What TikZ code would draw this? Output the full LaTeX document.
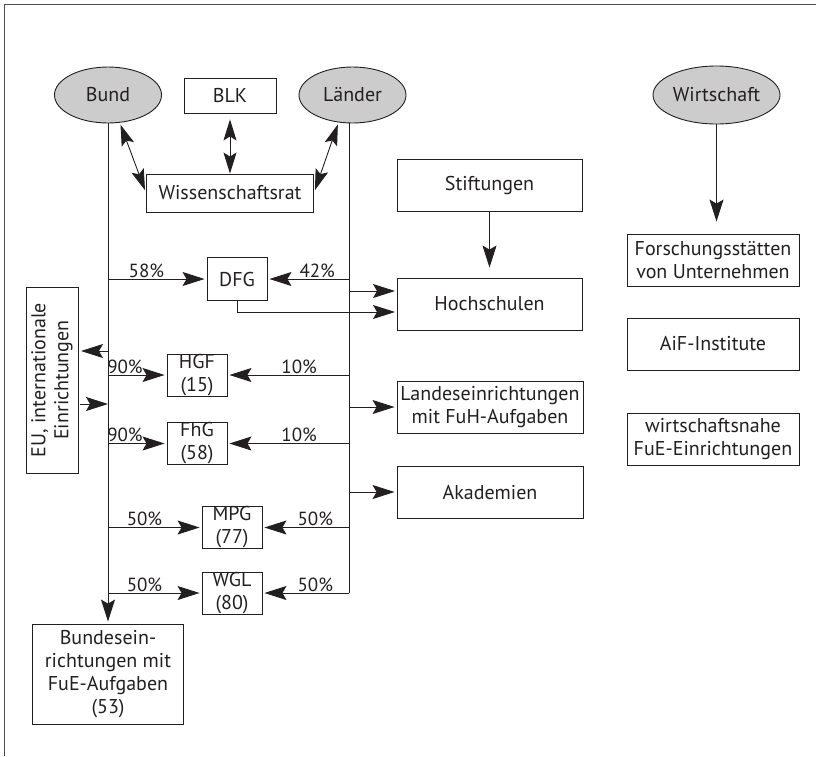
\documentclass[tikz,border=0pt]{standalone}
\usepackage{fontspec}
\setmainfont{PT Sans}
\usetikzlibrary{shapes.geometric,arrows.meta,calc}
\definecolor{ellgray}{RGB}{204,204,204}
\definecolor{linecol}{RGB}{35,31,32}
\begin{document}
\begin{tikzpicture}[x=1pt,y=-1pt,
  every node/.style={font=\fontsize{20}{23}\selectfont, text=linecol},
  box/.style={draw=linecol, line width=0.9pt, rectangle, inner sep=0pt, align=center},
  ell/.style={draw=linecol, line width=0.9pt, ellipse, fill=ellgray, inner sep=0pt},
  conn/.style={draw=linecol, line width=0.9pt},
  arr/.style={conn, -{Stealth[length=22pt,width=14pt,inset=4pt]}, shorten >=2pt},
  dbl/.style={conn, {Stealth[length=21pt,width=13pt,inset=4pt]}-{Stealth[length=21pt,width=13pt,inset=4pt]}},
  pct/.style={above, inner sep=1pt, font=\fontsize{19}{22}\selectfont},
  frame/.style={draw=black!70, line width=1.2pt}]
\useasboundingbox (0,0) rectangle (816,756);
\draw[frame] (816,4.5) -- (4.5,4.5) -- (4.5,756);

% top row
\node[ell, minimum width=107pt, minimum height=56pt] (bund) at (108,95) {Bund};
\node[box, minimum width=92pt, minimum height=35pt] (blk) at (230,95.5) {BLK};
\node[ell, minimum width=107pt, minimum height=56pt] (laender) at (352.5,95) {Länder};
\node[ell, minimum width=127pt, minimum height=58pt] (wirt) at (716.5,95) {Wirtschaft};
\node[box, minimum width=167pt, minimum height=38pt] (wr) at (230,193) {Wissenschaftsrat};

% right column boxes
\node[box, minimum width=185pt, minimum height=52pt] (stift) at (489.5,185) {Stiftungen};
\node[box, minimum width=185pt, minimum height=52pt] (hoch) at (489.5,304) {Hochschulen};
\node[box, minimum width=186pt, minimum height=52pt] (landes) at (490,407) {Landeseinrichtungen\\mit FuH-Aufgaben};
\node[box, minimum width=186pt, minimum height=52pt] (akad) at (490,492) {Akademien};
\node[box, minimum width=172pt, minimum height=52pt] (forsch) at (713,260) {Forschungsstätten\\von Unternehmen};
\node[box, minimum width=172pt, minimum height=52pt] (aif) at (713,344) {AiF-Institute};
\node[box, minimum width=172pt, minimum height=52pt] (wnahe) at (713,439) {wirtschaftsnahe\\FuE-Einrichtungen};

% middle boxes
\node[box, minimum width=60pt, minimum height=43pt] (dfg) at (237,279) {DFG};
\node[box, minimum width=60pt, minimum height=42pt] (hgf) at (197,375) {HGF\\(15)};
\node[box, minimum width=60pt, minimum height=42pt] (fhg) at (197,443.5) {FhG\\(58)};
\node[box, minimum width=60pt, minimum height=42pt] (mpg) at (232,527.5) {MPG\\(77)};
\node[box, minimum width=60pt, minimum height=42pt] (wgl) at (232,593) {WGL\\(80)};

% left boxes
\node[box, rotate=90, minimum width=186pt, minimum height=52pt] (eu) at (52,380) {EU, internationale\\Einrichtungen};
\node[box, minimum width=151pt, minimum height=100pt] (bundes) at (108,674) {Bundesein-\\richtungen mit\\FuE-Aufgaben\\(53)};

% helper coordinates
\coordinate (lbot) at (349,593);
\coordinate (h1) at (397,291);
\coordinate (h2) at (397,312);
\coordinate (eu1) at (81,351);
\coordinate (eu2) at (80,404);

% main vertical lines
\draw[arr] (bund.south) -- (bundes.north);
\draw[conn] (laender.south -| lbot) -- (lbot);
\draw[arr] (lbot) -- (wgl.east) node[pct, pos=0.39] (p50d) {50\%};

% double arrows to Wissenschaftsrat
\draw[dbl, shorten <=2pt, shorten >=3pt] (bund.-67) -- (wr.west);
\draw[dbl, shorten <=2pt, shorten >=3pt] (laender.-117) -- (wr.east);
\draw[dbl, shorten <=6pt] (blk.south) -- (wr.north);

% DFG
\draw[arr] (bund.south |- dfg.west) -- (dfg.west) node[pct, pos=0.39] (p58) {58\%};
\draw[arr] (lbot |- dfg.east) -- (dfg.east) node[pct, pos=0.39] (p42) {42\%};

% Hochschulen
\draw[arr] (h1 -| lbot) -- (h1);
\draw[arr] (dfg.south) |- (h2);
\draw[arr, shorten >=10pt] (stift.south) -- (hoch.north);

% EU
\draw[arr, shorten >=0pt] (eu1 -| bund.south) -- (eu1);
\draw[arr, shorten >=0pt] (eu2) -- (eu2 -| bund.south);

% HGF / FhG
\draw[arr] (bund.south |- hgf.west) -- (hgf.west) node[pct, pos=0.29] (p90a) {90\%};
\draw[arr] (lbot |- hgf.east) -- (hgf.east) node[pct, pos=0.41] (p10a) {10\%};
\draw[arr] (bund.south |- fhg.west) -- (fhg.west) node[pct, pos=0.29] (p90b) {90\%};
\draw[arr] (lbot |- fhg.east) -- (fhg.east) node[pct, pos=0.41] (p10b) {10\%};

% MPG / WGL
\draw[arr] (bund.south |- mpg.west) -- (mpg.west) node[pct, pos=0.39] (p50a) {50\%};
\draw[arr] (lbot |- mpg.east) -- (mpg.east) node[pct, pos=0.39] (p50b) {50\%};
\draw[arr] (bund.south |- wgl.west) -- (wgl.west) node[pct, pos=0.39] (p50c) {50\%};

% Landes / Akademien
\draw[arr] (lbot |- landes.west) -- (landes.west);
\draw[arr] (lbot |- akad.west) -- (akad.west);

% Wirtschaft
\draw[arr, shorten >=12pt] (wirt.south) -- (wirt.south |- forsch.north);
\end{tikzpicture}
\end{document}
